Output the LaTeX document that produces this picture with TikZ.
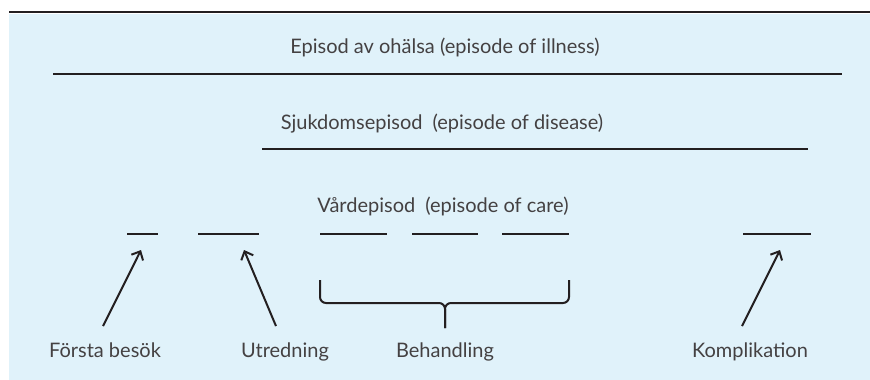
\documentclass[tikz,border=0pt]{standalone}
\usepackage{fontspec}
\setmainfont{Lato}
\usetikzlibrary{arrows.meta}

\definecolor{bgblue}{RGB}{224,242,250}
\definecolor{ink}{RGB}{35,31,32}

\begin{document}
\begin{tikzpicture}[x=1pt,y=-1pt,
    lbl/.style={text=ink!85, font=\fontsize{20}{24}\selectfont, inner sep=0pt, anchor=base},
    bar/.style={ink, line width=2pt},
    pointer/.style={ink, line width=2pt, -{Straight Barb[length=7pt,width=13pt]}}]

    % background
    \useasboundingbox (0,0) rectangle (870,380);
    \fill[bgblue] (9,14) rectangle (870,380);
    \draw[ink, line width=2.5pt] (9,12) -- (870,12);

    % episodes
    \node[lbl] (illness) at (445,53) {Episod av ohälsa (episode of illness)};
    \draw[bar] (53,74) -- (842,74);
    \node[lbl] (disease) at (442,129) {Sjukdomsepisod\enspace(episode of disease)};
    \draw[bar] (262,149) -- (808,149);
    \node[lbl] (care) at (443,212) {Vårdepisod\enspace(episode of care)};

    % visits
    \foreach \a/\b/\n in {127/158/first, 198/259/study, 320/387/treatA, 412/478/treatB, 502/569/treatC, 743/811/compl}
      \draw[bar] (\a,234) coordinate (\n-l) -- (\b,234) coordinate (\n-r);

    % labels
    \node[lbl] (first) at (105,357) {Första besök};
    \node[lbl] (study) at (285,357) {Utredning};
    \node[lbl] (treat) at (445,357) {Behandling};
    \node[lbl] (compl) at (750,357) {Komplikation};

    % arrows
    \coordinate (first-tip) at (141,250);
    \coordinate (study-tip) at (244,250);
    \coordinate (compl-tip) at (780,250);
    \draw[pointer] ([xshift=-2pt,yshift=16pt]first.north) -- (first-tip);
    \draw[pointer] ([xshift=-9pt,yshift=16pt]study.north) -- (study-tip);
    \draw[pointer] ([xshift=-8pt,yshift=16pt]compl.north) -- (compl-tip);

    % brace
    \draw[ink, line width=2pt, rounded corners=6pt] (treatA-l) ++(0,46) -- ++(0,23) -| ([yshift=14pt]treat.north);
    \draw[ink, line width=2pt, rounded corners=6pt] (treatC-r) ++(0,46) -- ++(0,23) -| ([yshift=14pt]treat.north);
  \end{tikzpicture}
\end{document}
